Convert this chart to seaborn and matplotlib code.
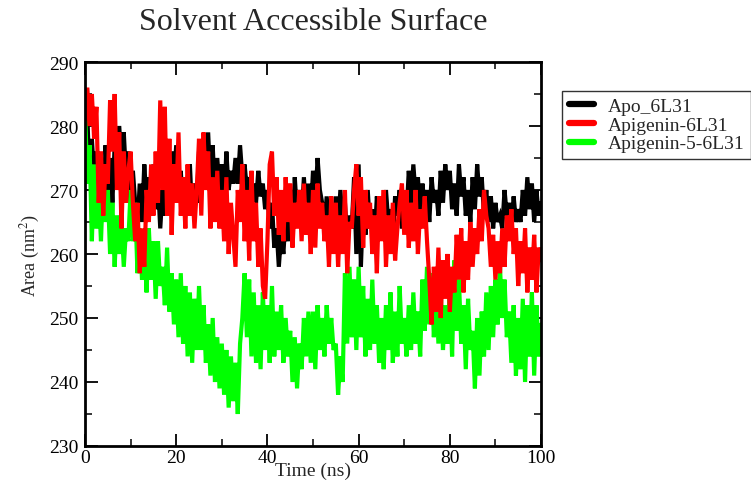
import numpy as np
import pandas as pd
import matplotlib
matplotlib.use("Agg")
import matplotlib.pyplot as plt
import seaborn as sns
from matplotlib.ticker import MultipleLocator
from matplotlib.lines import Line2D

# sampling every 0.5 ns, 0..100 ns
time_ns = np.linspace(0, 100, 201)

apo_6l31 = [
    275, 282, 271, 278, 272, 276, 268, 274, 266, 277,
    270, 275, 268, 277, 273, 280, 274, 279, 272, 276,
    266, 273, 268, 264, 271, 265, 274, 268, 272, 266,
    274, 267, 271, 264, 270, 266, 272, 268, 276, 271,
    277, 270, 273, 267, 272, 269, 274, 266, 271, 268,
    276, 270, 278, 272, 279, 271, 277, 269, 275, 270,
    274, 268, 276, 270, 273, 271, 275, 271, 277, 272,
    274, 270, 272, 266, 271, 268, 273, 269, 271, 267,
    270, 264, 268, 261, 264, 258, 263, 260, 266, 262,
    270, 263, 272, 266, 270, 265, 272, 266, 271, 266,
    273, 268, 275, 270, 268, 264, 269, 263, 267, 264,
    269, 264, 270, 265, 268, 262, 266, 264, 272, 260,
    274, 258, 268, 263, 270, 264, 267, 262, 269, 265,
    268, 263, 270, 265, 267, 262, 269, 266, 270, 264,
    268, 266, 273, 268, 274, 269, 272, 266, 271, 267,
    270, 265, 272, 268, 270, 266, 273, 268, 274, 270,
    273, 267, 271, 266, 274, 269, 272, 266, 270, 265,
    272, 267, 274, 269, 272, 266, 270, 265, 269, 264,
    268, 265, 266, 264, 270, 266, 268, 264, 269, 265,
    267, 265, 270, 266, 272, 267, 271, 265, 270, 266,
    268]

apigenin_6l31 = [
    281, 286, 280, 285, 278, 283, 268, 276, 266, 274,
    271, 284, 276, 285, 270, 279, 264, 276, 268, 273,
    276, 268, 262, 268, 257, 264, 258, 270, 265, 274,
    266, 276, 268, 284, 270, 283, 266, 278, 263, 274,
    268, 279, 266, 272, 264, 274, 266, 271, 264, 270,
    278, 266, 279, 270, 276, 264, 272, 265, 273, 264,
    270, 262, 272, 260, 268, 263, 258, 270, 265, 274,
    262, 270, 259, 273, 262, 268, 258, 264, 255, 253,
    262, 274, 276, 266, 272, 263, 270, 262, 272, 265,
    271, 261, 268, 264, 270, 262, 271, 263, 268, 260,
    270, 261, 271, 264, 268, 262, 266, 258, 269, 260,
    268, 258, 266, 260, 270, 257, 265, 264, 270, 274,
    266, 272, 261, 270, 264, 268, 260, 266, 257, 269,
    262, 270, 258, 266, 260, 268, 259, 264, 268, 271,
    263, 270, 261, 268, 262, 270, 260, 267, 264, 269,
    262, 256, 249, 258, 251, 261, 250, 259, 253, 260,
    251, 258, 254, 263, 256, 264, 254, 262, 256, 265,
    258, 264, 260, 267, 262, 270, 266, 264, 258, 263,
    256, 262, 257, 264, 258, 266, 262, 267, 260, 264,
    255, 262, 257, 264, 254, 261, 256, 263, 254, 261,
    259]

apigenin_5_6l31 = [
    283, 271, 277, 262, 274, 264, 270, 262, 272, 265,
    270, 260, 268, 258, 266, 260, 265, 258, 264, 262,
    270, 262, 268, 257, 264, 256, 262, 254, 264, 256,
    262, 253, 262, 255, 258, 252, 261, 251, 257, 249,
    256, 247, 257, 246, 255, 244, 254, 243, 253, 245,
    255, 245, 252, 243, 249, 241, 250, 240, 247, 239,
    246, 238, 245, 236, 244, 237, 243, 235, 246, 250,
    257, 247, 256, 244, 254, 243, 252, 242, 254, 245,
    252, 243, 255, 244, 251, 245, 252, 243, 250, 244,
    248, 240, 247, 239, 246, 242, 250, 244, 251, 243,
    251, 242, 252, 245, 250, 244, 252, 246, 250, 245,
    246, 238, 244, 240, 257, 246, 258, 247, 256, 245,
    258, 247, 255, 244, 253, 245, 256, 246, 252, 243,
    250, 242, 252, 245, 254, 243, 251, 244, 255, 246,
    250, 244, 252, 245, 254, 246, 251, 244, 256, 248,
    258, 249, 257, 247, 255, 246, 254, 245, 252, 246,
    255, 244, 259, 248, 256, 246, 252, 242, 253, 245,
    248, 239, 250, 241, 251, 244, 254, 245, 255, 247,
    256, 249, 258, 250, 256, 247, 251, 243, 252, 241,
    250, 242, 253, 240, 252, 244, 254, 241, 252, 244,
    249]

series_names = ["Apo_6L31", "Apigenin-6L31", "Apigenin-5-6L31"]
series_values = [apo_6l31, apigenin_6l31, apigenin_5_6l31]
series_colors = ["#000000", "#ff0000", "#00ff00"]

x_ticks = [0, 20, 40, 60, 80, 100]
y_ticks = [230, 240, 250, 260, 270, 280, 290]

frames = []
for name, vals in zip(series_names, series_values):
    frames.append(pd.DataFrame({"Time": time_ns, "Area": vals, "Series": name}))
df = pd.concat(frames, ignore_index=True)

sns.set_style("ticks")
plt.rcParams["font.family"] = ["Liberation Serif", "DejaVu Serif"]
plt.rcParams["mathtext.fontset"] = "stix"

fig = plt.figure(figsize=(7.51, 4.81), dpi=100)
ax = fig.add_axes([0.1132, 0.0707, 0.6072, 0.7983])

palette = dict(zip(series_names, series_colors))
# draw order: black, green, red (red on top of black)
for name in ["Apo_6L31", "Apigenin-5-6L31", "Apigenin-6L31"]:
    sns.lineplot(data=df[df["Series"] == name], x="Time", y="Area",
                 color=palette[name], lw=3.0, ax=ax, legend=False,
                 estimator=None, sort=False, solid_joinstyle="miter")

ax.set_xlim(0, 100)
ax.set_ylim(230, 290)
ax.set_xticks(x_ticks)
ax.set_yticks(y_ticks)
ax.xaxis.set_minor_locator(MultipleLocator(10))
ax.yaxis.set_minor_locator(MultipleLocator(5))
ax.tick_params(which="major", direction="in", length=9, width=1.3,
               top=True, right=True, labelsize=14, colors="black")
ax.tick_params(which="minor", direction="in", length=5, width=1.3,
               top=True, right=True)
ax.tick_params(axis="x", which="major", pad=2)
ax.tick_params(axis="y", which="major", pad=5)
for sp in ax.spines.values():
    sp.set_visible(True)
    sp.set_linewidth(2.0)
    sp.set_color("black")

ax.set_xlabel("Time (ns)", fontsize=14, va="center")
ax.xaxis.set_label_coords(0.5, -0.064)
ax.set_ylabel("Area (nm$^2$)", fontsize=13, va="center")
ax.yaxis.set_label_coords(-0.12, 0.5)
fig.text(0.417, 0.954, "Solvent Accessible Surface", ha="center", va="center",
         fontsize=23)

handles = [Line2D([0], [0], color=c, lw=4.5) for c in series_colors]
leg = fig.legend(handles, series_names, loc="upper left",
                 bbox_to_anchor=(0.748, 0.809), borderaxespad=0,
                 frameon=True, fancybox=False,
                 fontsize=14, handlelength=1.3, handletextpad=0.7,
                 labelspacing=0.05, borderpad=0.35)
leg.get_frame().set_edgecolor("black")
leg.get_frame().set_linewidth(1.0)

fig.savefig("out.png", dpi=100)
